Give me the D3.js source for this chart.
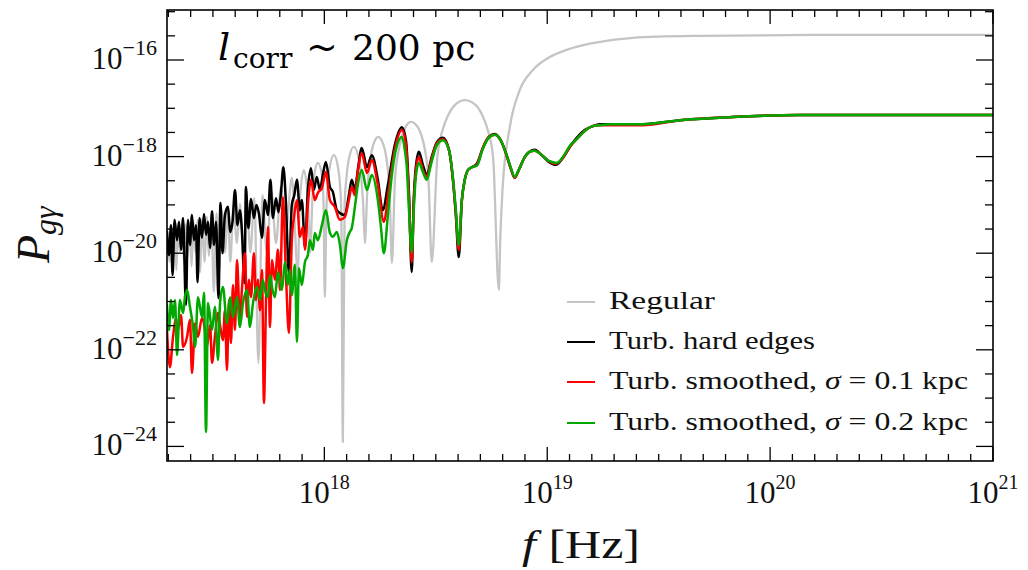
<!DOCTYPE html>
<html>
<head>
<meta charset="utf-8">
<script src="https://cdn.jsdelivr.net/npm/d3@7"></script>
<style>
  html, body { margin: 0; padding: 0; background: #fff; }
  svg { display: block; }
</style>
</head>
<body>
<svg id="chart" width="1028" height="570"></svg>
<script>
// Conversion probability P_gγ versus frequency f, l_corr ~ 200 pc.
// Each series is a list of [log10(f / Hz), log10(P)] pairs.

const regularLog = [
  [17.294,-19.56],[17.307,-20.18],[17.316,-19.48],[17.323,-20.10],[17.330,-19.46],[17.336,-20.35],
  [17.343,-19.44],[17.352,-19.98],[17.361,-19.42],[17.370,-20.18],[17.379,-19.40],[17.386,-20.08],
  [17.395,-19.37],[17.404,-20.27],[17.413,-19.35],[17.422,-19.98],[17.431,-19.31],[17.442,-20.39],
  [17.451,-19.29],[17.462,-20.18],[17.473,-19.25],[17.482,-20.06],[17.493,-19.21],[17.504,-20.80],
  [17.516,-19.17],[17.527,-20.39],[17.540,-19.13],[17.554,-19.98],[17.567,-19.08],[17.578,-20.18],
  [17.592,-19.02],[17.608,-19.79],[17.621,-18.98],[17.637,-20.08],[17.652,-18.92],[17.668,-19.98],
  [17.686,-18.86],[17.704,-22.27],[17.722,-18.80],[17.742,-19.98],[17.762,-18.71],[17.783,-19.79],
  [17.805,-18.63],[17.827,-19.56],[17.854,-18.44],[17.881,-20.39],[17.890,-18.90],[17.908,-18.28],
  [17.926,-18.90],[17.937,-19.98],[17.946,-18.90],[17.957,-18.32],[17.971,-18.13],[17.987,-18.32],
  [17.996,-18.90],[18.002,-20.91],[18.009,-19.15],[18.016,-18.57],[18.022,-18.28],[18.043,-17.97],
  [18.063,-18.28],[18.070,-18.57],[18.076,-19.15],[18.083,-23.91],[18.091,-18.98],[18.100,-18.40],
  [18.108,-18.10],[18.132,-17.80],[18.157,-18.10],[18.165,-18.40],[18.174,-18.98],[18.182,-19.79],
  [18.192,-18.77],[18.202,-18.19],[18.212,-17.89],[18.222,-17.72],[18.242,-17.59],[18.262,-17.72],
  [18.273,-17.89],[18.283,-18.19],[18.293,-18.77],[18.303,-20.20],[18.317,-18.46],[18.333,-17.88],
  [18.348,-17.58],[18.362,-17.41],[18.388,-17.28],[18.422,-17.41],[18.437,-17.58],[18.452,-17.88],
  [18.467,-18.46],[18.482,-20.18],[18.507,-18.01],[18.532,-17.43],[18.557,-17.13],[18.582,-16.95],
  [18.630,-16.83],[18.683,-16.95],[18.707,-17.13],[18.732,-17.43],[18.757,-18.01],[18.783,-20.76],
  [18.789,-19.73],[18.800,-18.63],[18.832,-17.39],[18.877,-16.62],[18.935,-16.21],[19.011,-15.94],
  [19.087,-15.79],[19.204,-15.65],[19.383,-15.54],[19.684,-15.50],[20.191,-15.48],[21.000,-15.48]
];

const hardEdgesLog = [
  [17.294,-19.56],[17.303,-20.04],[17.312,-19.42],[17.319,-20.45],[17.328,-19.31],[17.339,-19.73],
  [17.348,-19.35],[17.357,-19.93],[17.366,-19.27],[17.379,-21.07],[17.388,-19.31],[17.397,-19.83],
  [17.406,-19.21],[17.415,-19.73],[17.424,-19.42],[17.431,-20.60],[17.440,-19.27],[17.451,-19.68],
  [17.460,-19.19],[17.469,-19.62],[17.478,-19.35],[17.487,-19.89],[17.496,-19.13],[17.505,-19.83],
  [17.514,-19.35],[17.525,-20.93],[17.534,-18.96],[17.543,-20.00],[17.554,-19.21],[17.568,-19.04],
  [17.577,-19.56],[17.588,-19.35],[17.599,-18.69],[17.610,-19.42],[17.621,-19.11],[17.630,-19.52],
  [17.642,-20.62],[17.648,-18.63],[17.659,-19.48],[17.671,-18.88],[17.684,-19.27],[17.695,-19.00],
  [17.706,-19.17],[17.720,-19.68],[17.733,-18.90],[17.747,-19.21],[17.758,-18.48],[17.769,-19.27],
  [17.783,-18.86],[17.794,-19.15],[17.805,-18.77],[17.816,-18.22],[17.827,-18.90],[17.841,-20.41],
  [17.854,-19.00],[17.865,-18.80],[17.877,-18.48],[17.890,-19.11],[17.899,-18.90],[17.913,-19.87],
  [17.926,-18.69],[17.940,-18.24],[17.953,-18.69],[17.966,-18.42],[17.980,-18.69],[17.993,-18.38],
  [18.007,-18.11],[18.025,-18.63],[18.038,-18.73],[18.056,-19.11],[18.070,-19.17],[18.092,-19.21],
  [18.110,-18.80],[18.123,-18.48],[18.137,-18.69],[18.150,-18.28],[18.168,-17.82],[18.191,-18.22],
  [18.213,-17.97],[18.240,-18.48],[18.262,-19.11],[18.285,-18.59],[18.316,-17.76],[18.348,-17.39],
  [18.366,-17.66],[18.379,-18.69],[18.392,-20.39],[18.401,-18.90],[18.410,-18.24],[18.424,-17.90],
  [18.442,-18.17],[18.460,-18.38],[18.478,-18.07],[18.505,-17.70],[18.532,-17.61],[18.559,-17.86],
  [18.577,-18.48],[18.590,-19.21],[18.603,-20.08],[18.617,-18.90],[18.630,-18.48],[18.644,-18.28],
  [18.662,-18.22],[18.684,-18.15],[18.711,-17.82],[18.738,-17.59],[18.765,-17.53],[18.791,-17.66],
  [18.818,-17.97],[18.836,-18.24],[18.854,-18.44],[18.872,-18.28],[18.899,-18.01],[18.921,-17.90],
  [18.944,-17.86],[18.971,-17.95],[19.007,-18.11],[19.038,-18.17],[19.070,-18.03],[19.101,-17.80],
  [19.132,-17.61],[19.168,-17.45],[19.204,-17.37],[19.235,-17.33],[19.294,-17.33],[19.428,-17.33],
  [19.608,-17.24],[19.832,-17.18],[20.132,-17.14],[20.581,-17.14],[21.000,-17.14]
];

const smooth01Log = [
  [17.294,-21.59],[17.307,-22.36],[17.321,-21.73],[17.334,-21.34],[17.343,-21.59],[17.357,-21.28],
  [17.366,-21.94],[17.384,-21.73],[17.397,-21.38],[17.406,-22.48],[17.420,-21.45],[17.433,-21.73],
  [17.451,-21.34],[17.464,-21.59],[17.473,-21.94],[17.487,-21.49],[17.496,-22.27],[17.509,-21.73],
  [17.523,-21.24],[17.532,-21.49],[17.545,-21.80],[17.554,-21.18],[17.563,-22.42],[17.572,-20.97],
  [17.581,-21.86],[17.590,-20.66],[17.599,-21.59],[17.608,-20.14],[17.621,-21.38],[17.630,-20.76],
  [17.644,-20.00],[17.653,-21.32],[17.662,-20.55],[17.671,-20.91],[17.684,-20.00],[17.693,-20.97],
  [17.702,-20.55],[17.711,-21.18],[17.720,-20.35],[17.729,-23.10],[17.738,-21.03],[17.747,-19.46],
  [17.756,-21.53],[17.765,-20.14],[17.778,-20.55],[17.792,-19.93],[17.801,-20.76],[17.814,-18.84],
  [17.827,-20.35],[17.841,-21.65],[17.854,-19.73],[17.865,-19.21],[17.877,-18.90],[17.890,-19.66],
  [17.904,-19.46],[17.913,-19.93],[17.926,-19.00],[17.940,-18.48],[17.957,-18.90],[17.971,-18.75],
  [17.989,-18.65],[18.007,-18.32],[18.025,-18.90],[18.047,-19.04],[18.070,-19.31],[18.092,-19.25],
  [18.110,-18.90],[18.123,-18.63],[18.137,-18.80],[18.150,-18.32],[18.168,-17.93],[18.191,-18.34],
  [18.213,-18.07],[18.240,-18.59],[18.267,-19.35],[18.289,-18.69],[18.316,-17.86],[18.348,-17.45],
  [18.366,-17.76],[18.379,-18.80],[18.392,-20.18],[18.401,-19.00],[18.410,-18.32],[18.424,-18.01],
  [18.442,-18.28],[18.460,-18.42],[18.478,-18.11],[18.505,-17.72],[18.532,-17.64],[18.559,-17.86],
  [18.577,-18.48],[18.590,-19.17],[18.603,-19.93],[18.617,-18.90],[18.630,-18.48],[18.644,-18.28],
  [18.662,-18.22],[18.684,-18.17],[18.711,-17.82],[18.738,-17.59],[18.765,-17.55],[18.791,-17.66],
  [18.818,-17.99],[18.836,-18.24],[18.854,-18.44],[18.872,-18.28],[18.899,-18.01],[18.921,-17.90],
  [18.944,-17.88],[18.971,-17.95],[19.007,-18.09],[19.038,-18.15],[19.070,-18.03],[19.101,-17.80],
  [19.132,-17.64],[19.168,-17.47],[19.204,-17.37],[19.235,-17.35],[19.294,-17.35],[19.428,-17.35],
  [19.608,-17.24],[19.832,-17.18],[20.132,-17.14],[20.581,-17.14],[21.000,-17.14]
];

const smooth02Log = [
  [17.294,-21.07],[17.303,-21.59],[17.312,-20.97],[17.321,-21.34],[17.330,-20.97],[17.339,-22.11],
  [17.352,-20.97],[17.366,-21.24],[17.375,-20.89],[17.384,-20.76],[17.397,-21.11],[17.411,-21.53],
  [17.420,-21.94],[17.433,-20.91],[17.451,-21.32],[17.460,-20.82],[17.469,-23.70],[17.478,-21.03],
  [17.496,-21.59],[17.509,-21.11],[17.523,-22.21],[17.532,-21.03],[17.545,-20.70],[17.563,-21.45],
  [17.577,-20.91],[17.590,-21.32],[17.608,-20.91],[17.621,-21.53],[17.635,-21.03],[17.653,-20.76],
  [17.666,-21.53],[17.680,-21.03],[17.698,-20.70],[17.711,-20.97],[17.724,-20.55],[17.733,-20.76],
  [17.747,-20.91],[17.756,-20.45],[17.765,-20.70],[17.778,-20.91],[17.792,-20.39],[17.810,-20.76],
  [17.823,-20.18],[17.836,-20.66],[17.845,-20.35],[17.854,-20.87],[17.868,-20.24],[17.877,-21.84],
  [17.886,-20.31],[17.899,-20.66],[17.913,-20.18],[17.926,-20.04],[17.935,-19.73],[17.949,-19.93],
  [17.957,-19.58],[17.971,-19.73],[17.989,-19.42],[18.007,-19.11],[18.025,-19.58],[18.038,-19.66],
  [18.056,-19.56],[18.070,-19.83],[18.083,-20.31],[18.101,-19.73],[18.114,-19.56],[18.123,-19.48],
  [18.137,-19.04],[18.150,-18.59],[18.168,-18.28],[18.191,-18.69],[18.213,-18.38],[18.240,-18.90],
  [18.253,-19.42],[18.267,-20.00],[18.285,-19.21],[18.303,-18.38],[18.321,-17.86],[18.348,-17.59],
  [18.361,-17.86],[18.370,-18.22],[18.379,-19.04],[18.392,-19.98],[18.401,-19.11],[18.410,-18.44],
  [18.424,-18.13],[18.442,-18.32],[18.460,-18.48],[18.478,-18.17],[18.505,-17.76],[18.532,-17.66],
  [18.559,-17.86],[18.577,-18.44],[18.590,-19.11],[18.603,-19.83],[18.617,-18.90],[18.630,-18.48],
  [18.644,-18.28],[18.662,-18.22],[18.684,-18.19],[18.711,-17.84],[18.738,-17.61],[18.765,-17.55],
  [18.791,-17.66],[18.818,-17.97],[18.836,-18.22],[18.854,-18.42],[18.872,-18.28],[18.899,-18.01],
  [18.921,-17.90],[18.944,-17.88],[18.971,-17.95],[19.007,-18.09],[19.043,-18.13],[19.070,-18.01],
  [19.101,-17.78],[19.132,-17.64],[19.168,-17.47],[19.204,-17.37],[19.235,-17.35],[19.294,-17.33],
  [19.428,-17.33],[19.608,-17.24],[19.832,-17.18],[20.132,-17.14],[20.581,-17.14],[21.000,-17.14]
];

const seriesNames  = ["Regular", "Turb. hard edges", "Turb. smoothed, σ = 0.1 kpc", "Turb. smoothed, σ = 0.2 kpc"];
const seriesColors = ["#c4c4c4", "#000000", "#ff0000", "#00a800"];
const seriesData   = [regularLog, hardEdgesLog, smooth01Log, smooth02Log];

const xTickExponents = [18, 19, 20, 21];
const yTickExponents = [-24, -22, -20, -18, -16];

// ---------------------------------------------------------------------------
const svg = d3.select("#chart");
const pL = 167, pR = 993, pT = 10, pB = 461;

const x = d3.scaleLog().domain([10 ** 17.294, 1e21]).range([pL, pR]);
const y = d3.scaleLog().domain([10 ** -24.302, 10 ** -14.965]).range([pB, pT]);

svg.append("defs").append("clipPath").attr("id", "plot-clip")
  .append("rect").attr("x", pL).attr("y", pT)
  .attr("width", pR - pL).attr("height", pB - pT);

const line = d3.line()
  .x(d => x(10 ** d[0]))
  .y(d => y(10 ** d[1]))
  .curve(d3.curveMonotoneX);

const curves = svg.append("g").attr("clip-path", "url(#plot-clip)");
seriesData.forEach((data, i) => {
  curves.append("path")
    .attr("d", line(data))
    .attr("fill", "none")
    .attr("stroke", seriesColors[i])
    .attr("stroke-width", i === 0 ? 2.3 : 2.5)
    .attr("stroke-linejoin", "round")
    .attr("stroke-linecap", "round");
});

// Frame
svg.append("rect")
  .attr("x", pL).attr("y", pT)
  .attr("width", pR - pL).attr("height", pB - pT)
  .attr("fill", "none").attr("stroke", "#000").attr("stroke-width", 1.6);

// Ticks: x every 0.1 decade, y every half decade
const ticks = svg.append("g").attr("stroke", "#000").attr("stroke-width", 1.3);
const xMinor = d3.range(173, 211).map(k => k / 10);
xMinor.forEach(e => {
  const px = x(10 ** e);
  const major = Math.abs(e - Math.round(e)) < 1e-9;
  const len = major ? 14 : 7;
  ticks.append("line").attr("x1", px).attr("x2", px).attr("y1", pB).attr("y2", pB - len);
  ticks.append("line").attr("x1", px).attr("x2", px).attr("y1", pT).attr("y2", pT + len);
});
const yMinor = d3.range(-48, -29).map(k => k / 2);
yMinor.forEach(e => {
  const py = y(10 ** e);
  const major = yTickExponents.includes(e);
  const len = major ? 17 : 8;
  ticks.append("line").attr("x1", pL).attr("x2", pL + len).attr("y1", py).attr("y2", py);
  ticks.append("line").attr("x1", pR).attr("x2", pR - len).attr("y1", py).attr("y2", py);
});

// Tick labels
const serif = "'Liberation Serif', 'Times New Roman', serif";
const fmtExp = e => (e < 0 ? "\u2212" : "") + Math.abs(e);

yTickExponents.forEach(e => {
  const t = svg.append("text")
    .attr("x", 157).attr("y", y(10 ** e) + 9)
    .attr("text-anchor", "end")
    .attr("font-family", serif).attr("font-size", 31).attr("fill", "#111");
  t.append("tspan").text("10");
  t.append("tspan").attr("dy", -14).attr("font-size", 22).text(fmtExp(e));
});

xTickExponents.forEach(e => {
  const t = svg.append("text")
    .attr("x", x(10 ** e)).attr("y", 503)
    .attr("text-anchor", "middle")
    .attr("font-family", serif).attr("font-size", 31).attr("fill", "#111");
  t.append("tspan").text("10");
  t.append("tspan").attr("dy", -14).attr("font-size", 20).text(fmtExp(e));
});

// Axis titles
const xt = svg.append("text")
  .attr("x", 522).attr("y", 558)
  .attr("font-family", serif).attr("font-size", 40).attr("fill", "#111")
  .attr("textLength", 118).attr("lengthAdjust", "spacingAndGlyphs");
xt.append("tspan").attr("font-style", "italic").text("f");
xt.append("tspan").text(" [Hz]");

const yt = svg.append("text")
  .attr("transform", "translate(49,263) rotate(-90)")
  .attr("font-family", serif).attr("fill", "#111");
yt.append("tspan").attr("font-size", 46).attr("font-style", "italic").text("P");
yt.append("tspan").attr("font-size", 32).attr("font-style", "italic").attr("dy", 7).text("gγ");

// Annotation
const note = svg.append("text")
  .attr("font-family", "'DejaVu Serif', serif").attr("fill", "#000");
note.append("tspan").attr("x", 218).attr("y", 60).attr("font-size", 38).attr("font-style", "italic").text("l");
note.append("tspan").attr("x", 233).attr("y", 68).attr("font-size", 28).text("corr");
note.append("tspan").attr("x", 306).attr("y", 60).attr("font-size", 38).text("~");
note.append("tspan").attr("x", 352).attr("y", 60).attr("font-size", 36).text("200 pc");

// Legend
const legendRowY = [302, 342, 382, 423];
const legendWidths = [106, 206, 359, 359];
const legend = svg.append("g");
seriesNames.forEach((name, i) => {
  const ly = legendRowY[i];
  legend.append("line")
    .attr("x1", 567).attr("x2", 595).attr("y1", ly).attr("y2", ly)
    .attr("stroke", seriesColors[i]).attr("stroke-width", 2);
  const t = legend.append("text")
    .attr("x", 609).attr("y", ly + 7)
    .attr("font-family", serif).attr("font-size", 26).attr("fill", "#111")
    .attr("textLength", legendWidths[i]).attr("lengthAdjust", "spacingAndGlyphs");
  const parts = name.split("σ");
  t.append("tspan").text(parts[0]);
  if (parts.length > 1) {
    t.append("tspan").attr("font-style", "italic").text("σ");
    t.append("tspan").text(parts[1]);
  }
});
</script>
</body>
</html>
